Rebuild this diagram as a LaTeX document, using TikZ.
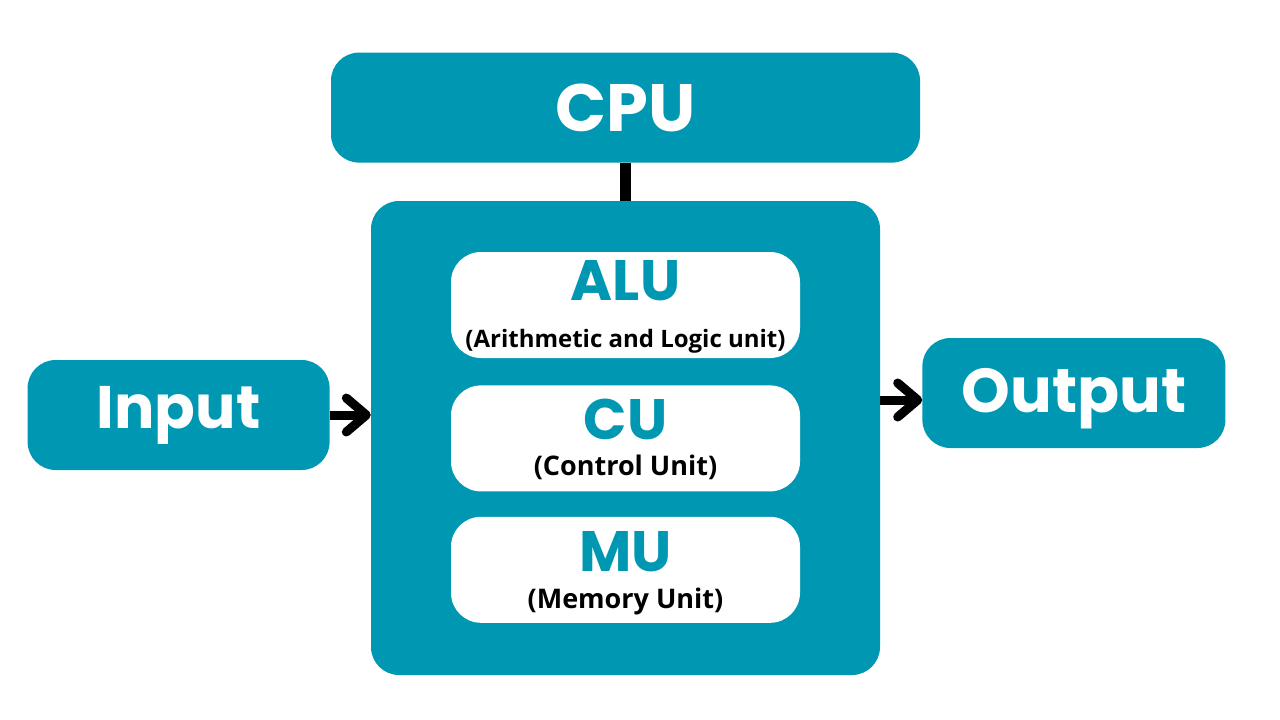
\documentclass[tikz,border=0pt]{standalone}
\usepackage{fontspec}
\setmainfont{Poppins}
\newfontfamily\labelfont{Open Sans}
\usetikzlibrary{arrows.meta,positioning}
\definecolor{cputeal}{RGB}{0,151,178}

\begin{document}
\begin{tikzpicture}[
  x=1pt, y=-1pt,
  block/.style={fill=cputeal, rounded corners=28pt, text=white, inner sep=0pt, font=\fontsize{60}{60}\selectfont\bfseries},
  unit/.style={fill=white, rounded corners=30pt, minimum width=349pt, minimum height=106pt, inner sep=0pt},
  unittitle/.style={anchor=base, inner sep=0pt, text=cputeal, font=\fontsize{57}{57}\selectfont\bfseries},
  unitname/.style={anchor=base, inner sep=0pt, text=black, font=\labelfont\fontsize{27}{27}\selectfont\bfseries},
  arr/.style={-{Straight Barb[round, length=20pt, width=34pt]}, line width=9pt},
  link/.style={line width=11pt}
]
\useasboundingbox (0,0) rectangle (1280,720);

\node[block, minimum width=509pt, minimum height=474pt] (cpubody) at (625.5,438) {};
\node[block, minimum width=589pt, minimum height=110pt, above=38pt of cpubody, font=\fontsize{67}{67}\selectfont\bfseries] (cpu) {CPU};
\node[block, minimum width=302pt, minimum height=110pt, left=41pt of cpubody, yshift=23pt] (input) {Input};
\node[block, minimum width=303pt, minimum height=110pt, right=42pt of cpubody, yshift=45pt,
  text height=53pt, text depth=15pt, font=\fontsize{62}{62}\selectfont\bfseries] (output) {Output};

\node[unit, below=51pt of cpubody.north] (alu) {};
\node[unit, below=27pt of alu] (cu) {};
\node[unit, below=25pt of cu] (mu) {};

\node[unittitle, yshift=5pt] (alutitle) at (alu.center) {ALU};
\node[unitname, yshift=-42pt, font=\labelfont\fontsize{24}{24}\selectfont\bfseries] (aluname) at (alu.center) {(Arithmetic and Logic unit)};
\node[unittitle, yshift=-1pt] (cutitle) at (cu.center) {CU};
\node[unitname, yshift=-37pt] (cuname) at (cu.center) {(Control Unit)};
\node[unittitle, yshift=-2pt] (mutitle) at (mu.center) {MU};
\node[unitname, yshift=-39pt] (muname) at (mu.center) {(Memory Unit)};

\draw[link] (cpu) -- (cpubody);
\draw[arr] (input.east) -- (input.east -| cpubody.west);
\coordinate[yshift=-7pt] (outend) at (output.west);
\draw[arr] (outend -| cpubody.east) -- (outend);
\end{tikzpicture}
\end{document}
